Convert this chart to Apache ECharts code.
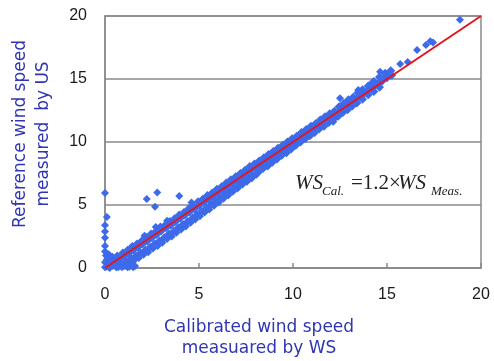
<!DOCTYPE html>
<html>
<head>
<meta charset="utf-8">
<script src="https://cdn.jsdelivr.net/npm/echarts@6/dist/echarts.min.js"></script>
<style>html,body{margin:0;padding:0;background:#fff}#c{width:494px;height:361px}</style>
</head>
<body>
<div id="c"></div>
<script>
var xTicks = [0, 5, 10, 15, 20];
var yTicks = [0, 5, 10, 15, 20];
var xAxisTitle = 'Calibrated wind speed\nmeasuared by WS';
var yAxisTitle = 'Reference wind speed\nmeasured  by US';
var fitLine = [[0, 0], [20, 20]];

var bandCenter = [[0.5,0.45],[0.75,0.7],[1.0,0.9],[1.25,1.15],[1.5,1.4],[1.75,1.65],[2.0,1.9],[2.25,2.15],[2.5,2.4],[2.75,2.65],[3.0,2.95],[3.25,3.2],[3.5,3.4],[3.75,3.7],[4.0,3.95],[4.25,4.2],[4.5,4.45],[4.75,4.7],[5.0,4.95],[5.25,5.2],[5.5,5.45],[5.75,5.7],[6.0,5.95],[6.25,6.2],[6.5,6.45],[6.75,6.7],[7.0,6.95],[7.25,7.2],[7.5,7.45],[7.75,7.75],[8.0,7.95],[8.25,8.2],[8.5,8.5],[8.75,8.7],[9.0,8.95],[9.25,9.25],[9.5,9.5],[9.75,9.7],[10.0,10.0],[10.25,10.25],[10.5,10.45],[10.75,10.75],[11.0,11.0],[11.25,11.2],[11.5,11.5],[11.75,11.75],[12.0,12.0],[12.25,12.25],[12.5,12.5],[12.75,12.8],[13.0,13.05],[13.25,13.3],[13.5,13.55],[13.75,13.8],[14.0,14.1],[14.25,14.3],[14.5,14.6],[14.75,14.85],[15.0,15.1],[15.25,15.3]];
var bandLower = [[0.6,0.1],[0.9,0.3],[1.15,0.5],[1.4,0.75],[1.65,0.95],[1.9,1.2],[2.15,1.4],[2.4,1.65],[2.65,1.9],[2.9,2.15],[3.15,2.4],[3.4,2.7],[3.65,2.9],[3.9,3.2],[4.15,3.45],[4.4,3.7],[4.65,3.95],[4.9,4.25],[5.15,4.5],[5.4,4.75],[5.65,5.05],[5.9,5.3],[6.15,5.55],[6.4,5.8],[6.65,6.05],[6.9,6.3],[7.15,6.6],[7.4,6.85],[7.65,7.1],[7.9,7.35],[8.15,7.6],[8.4,7.9],[8.65,8.1],[8.9,8.4],[9.15,8.65],[9.4,8.95],[9.65,9.15],[9.9,9.45],[10.15,9.75],[10.4,10.0],[10.65,10.25],[10.9,10.5],[11.15,10.75],[11.4,11.05],[11.65,11.25],[11.9,11.55],[12.15,11.8],[12.4,12.05],[12.65,12.35],[12.9,12.55],[13.15,12.85],[13.4,13.1],[13.7,13.4],[14.0,13.75],[14.3,14.0],[14.6,14.35]];
var bandLowerEdge = [[1.05,0.15],[1.3,0.35],[1.55,0.6],[1.8,0.8],[2.05,1.05],[2.3,1.25],[2.55,1.55],[2.8,1.75],[3.05,2.0],[3.3,2.3],[3.55,2.5],[3.8,2.8],[4.05,3.05],[4.3,3.3],[4.55,3.6],[4.8,3.85],[5.05,4.1],[5.3,4.4],[5.55,4.65],[5.8,4.95],[6.05,5.2],[6.3,5.5],[6.55,5.75],[6.8,6.05],[7.05,6.3],[7.3,6.6],[7.55,6.85],[7.8,7.1],[8.05,7.4]];
var bandUpper = [[0.4,0.8],[0.65,0.95],[0.95,1.2],[1.2,1.4],[1.45,1.7],[1.7,1.9],[1.95,2.15],[2.2,2.4],[2.45,2.7],[2.7,2.9],[2.95,3.25],[3.2,3.4],[3.45,3.7],[3.7,3.9],[3.95,4.2],[4.2,4.4],[4.45,4.7],[4.7,4.95],[4.95,5.25],[5.2,5.45],[5.45,5.75],[5.7,5.95],[5.95,6.25],[6.2,6.45],[6.45,6.75],[6.7,7.0],[6.95,7.25],[7.2,7.5],[7.45,7.75],[7.7,8.05],[7.95,8.25],[8.2,8.5],[8.45,8.75],[8.7,9.0],[8.95,9.25],[9.2,9.5],[9.45,9.75],[9.7,10.0],[9.95,10.25],[10.2,10.45],[10.45,10.75],[10.7,11.0],[10.95,11.25],[11.2,11.45],[11.45,11.75],[11.7,12.0],[11.95,12.25],[12.2,12.45],[12.45,12.8],[12.7,13.05],[12.95,13.35],[13.2,13.55],[13.45,13.9],[13.7,14.15],[14.0,14.45],[14.3,14.8],[14.6,15.15],[14.9,15.45],[15.2,15.65]];
var lowCluster = [[0,5.95],[0.1,4.05],[0,3.4],[0,2.9],[0,2.4],[0,1.75],[0,1.3],[0.05,1.0],[0.1,0.7],[0,0.45],[0.2,0.3],[0.2,1.1],[0.4,0.9],[0.6,0.75],[0.3,0.6],[0.5,0.5],[0.8,0.35],[1.0,0.2],[1.3,0.1],[0.1,0.1],[0.4,0.15],[0.7,0.05],[0,0.05],[0.15,0.85],[0.35,0.35],[0.55,0.2],[0.25,0.0],[0.9,0.05],[1.6,0.15],[1.5,0.05]];
var outliers = [[2.22,5.48],[2.78,6.0],[2.66,4.87],[3.95,5.71],[2.1,2.55],[2.7,3.25],[3.3,3.75],[4.6,5.2],[1.2,0.05],[12.5,13.47],[13.47,14.13],[14.18,14.66],[14.63,15.58],[14.8,15.05],[15.16,15.45],[15.7,16.2],[16.1,16.35],[16.6,17.3],[17.07,17.7],[17.3,18.0],[17.45,17.9],[18.88,19.7],[12.14,11.6]];

var bandColor = '#3d6aea';
function pts(name, data, size) {
  return { name: name, type: 'scatter', data: data, symbol: 'diamond', symbolSize: size,
           itemStyle: { color: bandColor, opacity: 1 }, z: 2, silent: true };
}

var chart = echarts.init(document.getElementById('c'), null, { renderer: 'canvas' });
var serif = "'Liberation Serif', 'DejaVu Serif', serif";
var annoColor = '#222';
chart.setOption({
  animation: false,
  backgroundColor: '#fff',
  grid: { left: 105, right: 13, top: 16, bottom: 93, show: true, borderColor: '#8a8a8a', borderWidth: 1.5, backgroundColor: 'transparent' },
  xAxis: {
    type: 'value', min: xTicks[0], max: xTicks[xTicks.length - 1], interval: 5,
    axisLine: { show: true, lineStyle: { color: '#8a8a8a', width: 1.5 } },
    axisTick: { show: true, inside: true, length: 5, lineStyle: { color: '#8a8a8a', width: 1.5 } },
    splitLine: { show: false },
    axisLabel: { color: '#1a1a1a', fontSize: 16, fontFamily: "'Liberation Sans', Arial, sans-serif", margin: 19 }
  },
  yAxis: {
    type: 'value', min: yTicks[0], max: yTicks[yTicks.length - 1], interval: 5,
    axisLine: { show: true, lineStyle: { color: '#8a8a8a', width: 1.5 } },
    axisTick: { show: false },
    splitLine: { show: true, lineStyle: { color: '#8a8a8a', width: 1.5 } },
    axisLabel: { color: '#1a1a1a', fontSize: 16, fontFamily: "'Liberation Sans', Arial, sans-serif", margin: 18 }
  },
  series: [
    pts('bandLowerEdge', bandLowerEdge, 8),
    pts('bandLower', bandLower, 9),
    pts('bandUpper', bandUpper, 9),
    pts('bandCenter', bandCenter, 9),
    pts('lowCluster', lowCluster, 8),
    pts('outliers', outliers, 8),
    { name: 'fit', type: 'line', data: fitLine, symbol: 'none', lineStyle: { color: '#e5141c', width: 2 }, z: 5, silent: true }
  ],
  graphic: [
    { type: 'text', x: 32, y: 134, rotation: Math.PI / 2,
      style: { text: yAxisTitle, fill: '#3035b5', font: "17px 'DejaVu Sans', sans-serif", align: 'center', verticalAlign: 'middle', lineHeight: 23 } },
    { type: 'text', x: 259, y: 338,
      style: { text: xAxisTitle, fill: '#3035b5', font: "17px 'DejaVu Sans', sans-serif", align: 'center', verticalAlign: 'middle', lineHeight: 21 } },
    { type: 'text', x: 295, y: 183, style: { text: 'WS', fill: annoColor, font: 'italic 21px ' + serif, align: 'left', verticalAlign: 'middle' } },
    { type: 'text', x: 322, y: 192, style: { text: 'Cal.', fill: annoColor, font: 'italic 13px ' + serif, align: 'left', verticalAlign: 'middle' } },
    { type: 'text', x: 351, y: 183, style: { text: '=1.2\u00d7', fill: annoColor, font: '21px ' + serif, align: 'left', verticalAlign: 'middle' } },
    { type: 'text', x: 398, y: 183, style: { text: 'WS', fill: annoColor, font: 'italic 21px ' + serif, align: 'left', verticalAlign: 'middle' } },
    { type: 'text', x: 431, y: 192, style: { text: 'Meas.', fill: annoColor, font: 'italic 13px ' + serif, align: 'left', verticalAlign: 'middle' } }
  ]
});
</script>
</body>
</html>
